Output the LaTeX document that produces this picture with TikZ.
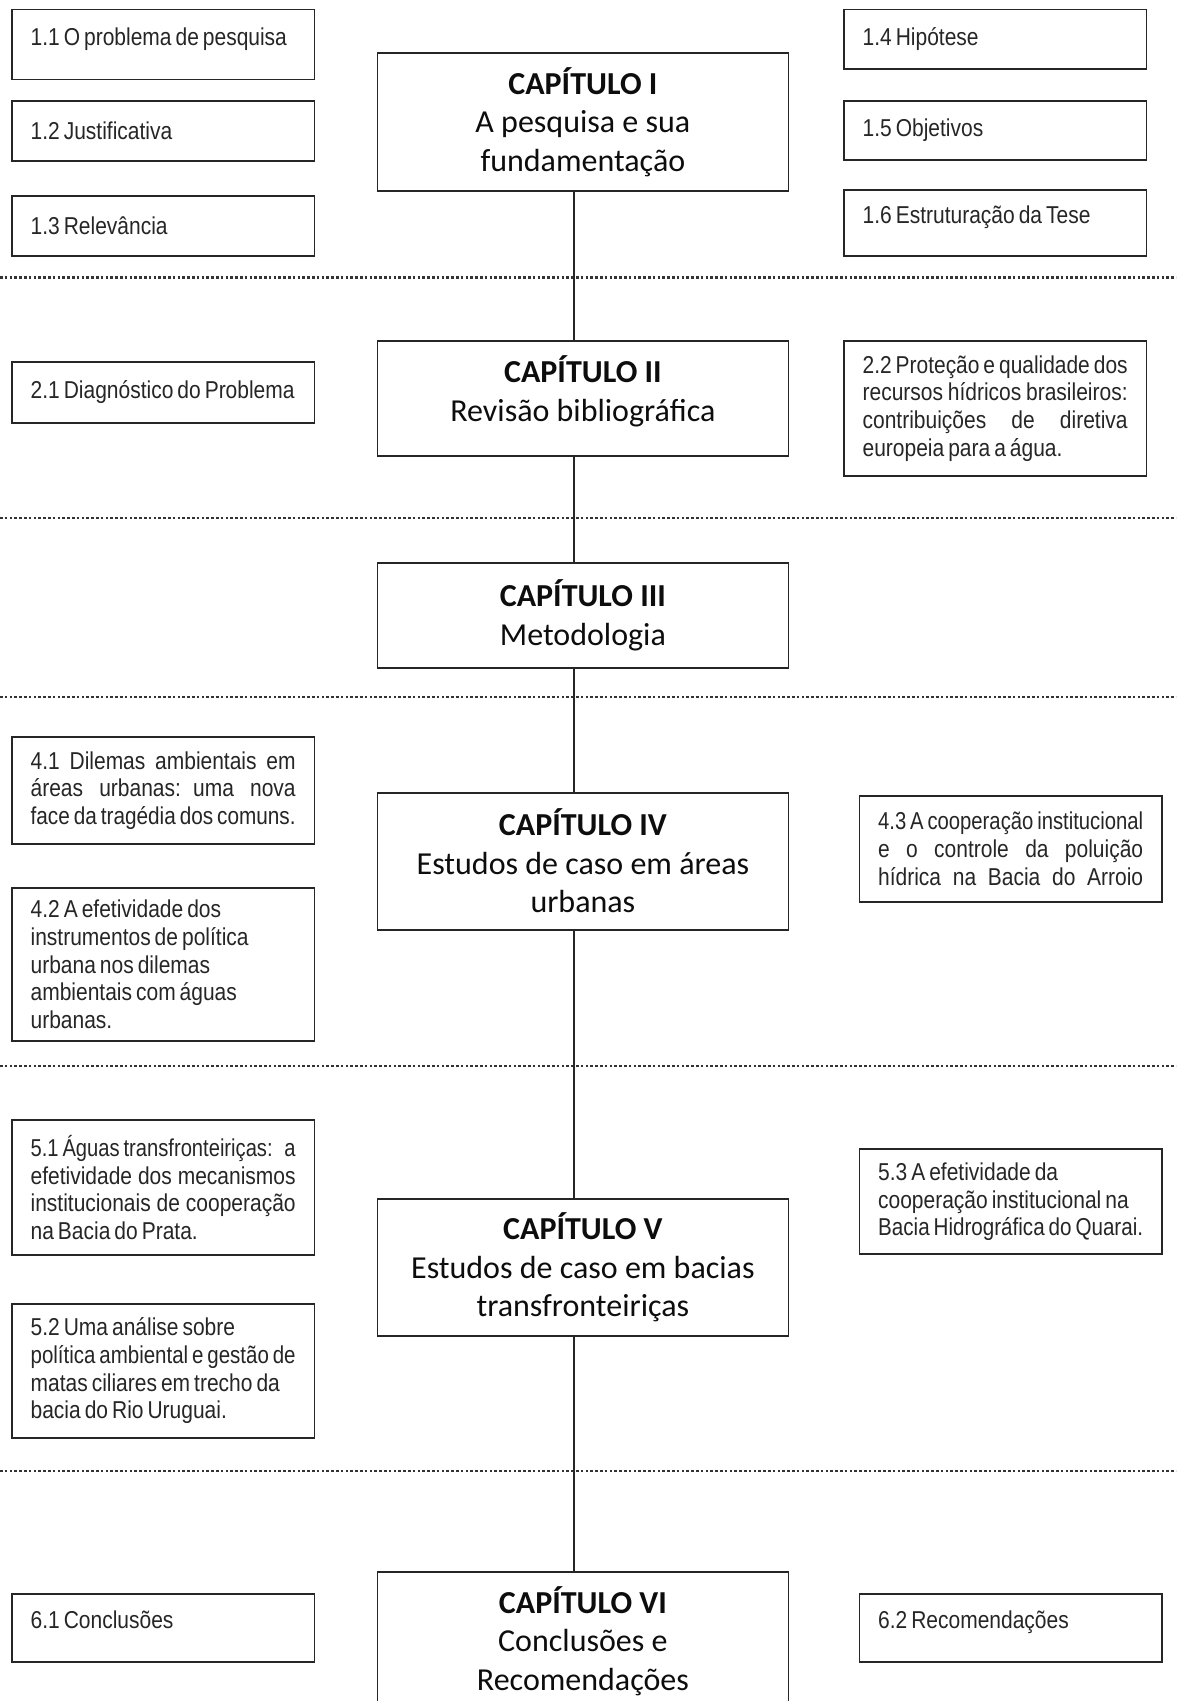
\documentclass[tikz,border=0pt]{standalone}
\usepackage{fontspec}
\usepackage{graphicx}
\setmainfont{Carlito}
\newfontfamily\narrowfont{Liberation Sans}[FakeStretch=0.86]
\setlength\parindent{0pt}
\newlength\subw
\setlength\subw{265pt}
\newsavebox\linebox
% narrow word spacing of the small boxes
\newcommand\tightsp{\spaceskip=4pt plus 4pt minus 1pt\relax}
% a line spread out to the full text width (justified line);
% a line that is too long is squeezed to the width instead
\newcommand\fillline[1]{\sbox\linebox{\tightsp #1}%
  \ifdim\wd\linebox>\subw\resizebox{\subw}{\height}{\usebox\linebox}%
  \else\makebox[\subw][s]{\tightsp #1}\fi}
% a line set at its natural width, never broken
\newcommand\rline[1]{\sbox\linebox{\tightsp #1}%
  \ifdim\wd\linebox>\subw\resizebox{\subw}{\height}{\usebox\linebox}%
  \else\usebox\linebox\fi}
% extra depth that lifts a single line a little above the box centre
\newcommand\liftline{\rule[-16pt]{0pt}{16pt}}
\hfuzz=20pt
\hbadness=10000

\begin{document}
\begin{tikzpicture}[x=1pt,y=-1pt,
  frame/.style={draw=black!85, line width=1.8pt, fill=white},
  sub/.style={frame, anchor=north west, minimum width=302.5pt, minimum height=#1,
    inner xsep=18.75pt, inner ysep=0pt, text width=\subw, align=left, text=black!85,
    font=\narrowfont\fontsize{24.4}{27.7}\selectfont},
  chap/.style={frame, anchor=north west, minimum width=411pt, minimum height=#1,
    inner sep=0pt, align=center, text=black!95, font=\fontsize{32}{38.5}\selectfont},
  sep/.style={line width=2.8pt, black!80, dash pattern=on 2.6pt off 2.2pt},
  link/.style={line width=1.4pt, black!85}]

\clip (0,0) rectangle (1176,1701);
\fill[white] (0,0) rectangle (1176,1701);

% section separators
\draw[sep] (0,277.5) -- (1176,277.5);
\draw[sep] (0,518) -- (1176,518);
\draw[sep] (0,697) -- (1176,697);
\draw[sep] (0,1066) -- (1176,1066);
\draw[sep] (0,1471) -- (1176,1471);

% chapters
\node[chap=138pt] (cap1) at (376.5,52) {\textbf{CAPÍTULO I}\\A pesquisa e sua\\fundamentação};
\node[chap=115pt] (cap2) at (376.5,340) {\textbf{CAPÍTULO II}\\Revisão bibliográfica\rule[-20pt]{0pt}{20pt}};
\node[chap=105pt] (cap3) at (376.5,561.7) {\textbf{CAPÍTULO III}\\Metodologia};
\node[chap=137pt] (cap4) at (376.5,791.7) {\textbf{CAPÍTULO IV}\\Estudos de caso em áreas\\urbanas};
\node[chap=136.7pt] (cap5) at (376.5,1198.3) {\textbf{CAPÍTULO V}\\Estudos de caso em bacias\\transfronteiriças};
\node[chap=138pt] (cap6) at (376.5,1571) {\textbf{CAPÍTULO VI}\\Conclusões e\\Recomendações};

% spine joining the chapters
\coordinate (spine) at (574,0);
\draw[link] (cap1.south -| spine) -- (cap2.north -| spine);
\draw[link] (cap2.south -| spine) -- (cap3.north -| spine);
\draw[link] (cap3.south -| spine) -- (cap4.north -| spine);
\draw[link] (cap4.south -| spine) -- (cap5.north -| spine);
\draw[link] (cap5.south -| spine) -- (cap6.north -| spine);

% chapter I
\node[sub=70pt] (b11) at (11,8.5) {\rline{1.1 O problema de pesquisa}\liftline};
\node[sub=60pt] (b12) at (11,100) {\rline{1.2 Justificativa}};
\node[sub=60pt] (b13) at (11,195) {\rline{1.3 Relevância}};
\node[sub=59.5pt] (b14) at (843,8.5) {\rline{1.4 Hipótese}};
\node[sub=59pt] (b15) at (843,100) {\rline{1.5 Objetivos}};
\node[sub=66pt] (b16) at (843,189) {\rline{1.6 Estruturação da Tese}\liftline};

% chapter II
\node[sub=61pt] (b21) at (11,361) {\rline{2.1 Diagnóstico do Problema}};
\node[sub=135pt] (b22) at (843,340) {\fillline{2.2 Proteção e qualidade dos}\\
  \fillline{recursos hídricos brasileiros:}\\
  \fillline{contribuições de diretiva}\\
  \rline{europeia para a água.}};

% chapter IV
\node[sub=107pt] (b41) at (11,736) {\fillline{4.1 Dilemas ambientais em}\\
  \fillline{áreas urbanas: uma nova}\\
  \rline{face da tragédia dos comuns.}};
\node[sub=152.7pt] (b42) at (11,887.3) {\rline{4.2 A efetividade dos}\\
  \rline{instrumentos de política}\\
  \rline{urbana nos dilemas}\\
  \rline{ambientais com águas}\\
  \rline{urbanas.}};
\node[sub=106pt] (b43) at (858.5,795) {\fillline{4.3 A cooperação institucional}\\
  \fillline{e o controle da poluição}\\
  \fillline{hídrica na Bacia do Arroio}};

% chapter V
\node[sub=135pt] (b51) at (11,1119) {\fillline{5.1 Águas transfronteiriças: a}\\
  \fillline{efetividade dos mecanismos}\\
  \fillline{institucionais de cooperação}\\
  \rline{na Bacia do Prata.}};
\node[sub=133.4pt] (b52) at (11,1303.3) {\rline{5.2 Uma análise sobre}\\
  \rline{política ambiental e gestão de}\\
  \rline{matas ciliares em trecho da}\\
  \rline{bacia do Rio Uruguai.}};
\node[sub=105pt] (b53) at (858.5,1148.3) {\rline{5.3 A efetividade da}\\
  \rline{cooperação institucional na}\\
  \rline{Bacia Hidrográfica do Quarai.}};

% chapter VI
\node[sub=68pt] (b61) at (11,1592.7) {\rline{6.1 Conclusões}\liftline};
\node[sub=68pt] (b62) at (858.5,1592.7) {\rline{6.2 Recomendações}\liftline};

\end{tikzpicture}
\end{document}
